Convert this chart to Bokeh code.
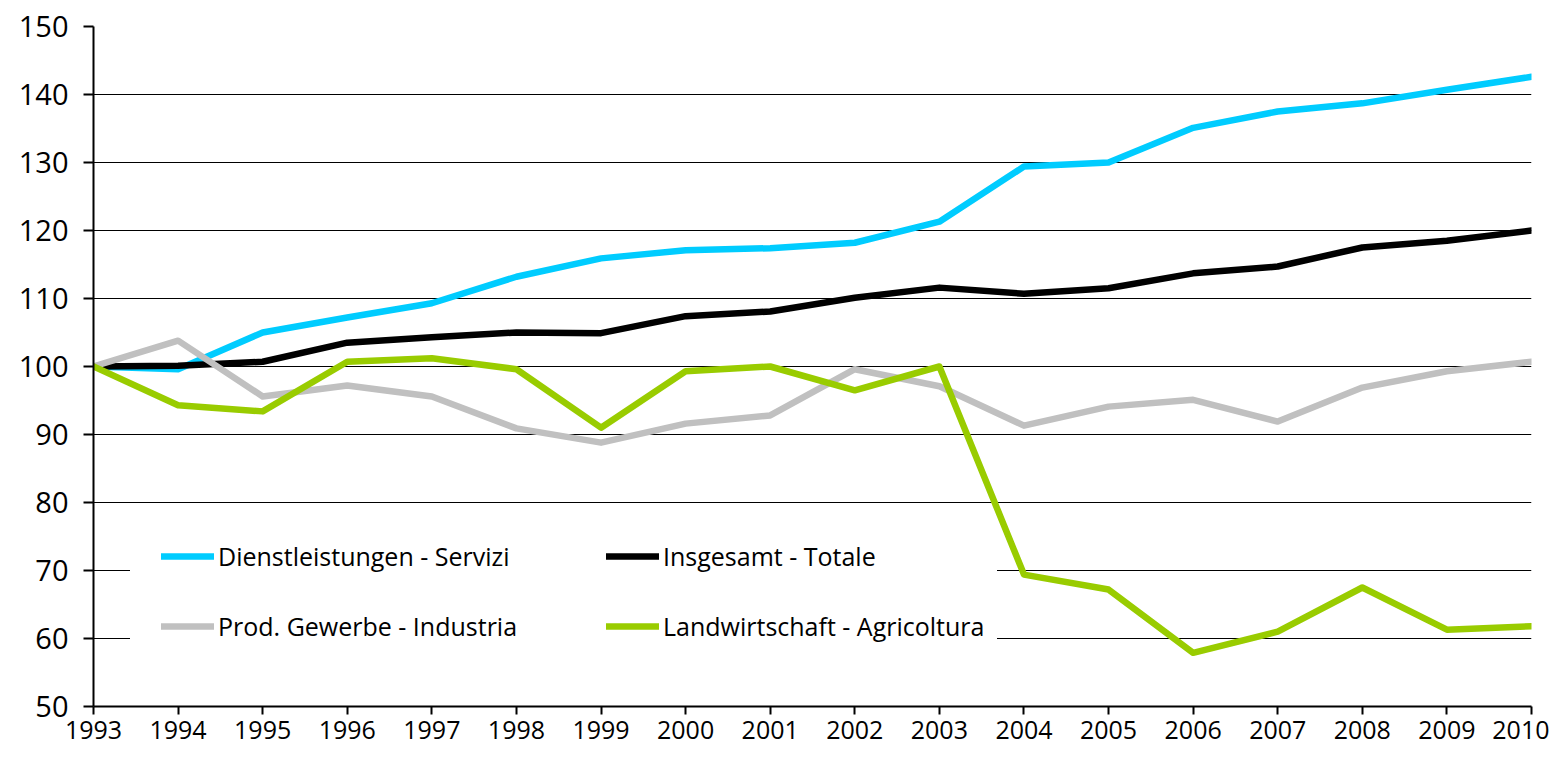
from bokeh.plotting import figure
from bokeh.models import Legend, LegendItem, FixedTicker, Range1d
from bokeh.embed import file_html
from bokeh.resources import INLINE

years = list(range(1993, 2011))
servizi = [100.0, 99.6, 105.0, 107.2, 109.3, 113.2, 115.9, 117.1, 117.4, 118.2,
           121.3, 129.4, 130.0, 135.1, 137.5, 138.7, 140.7, 142.6]
totale = [100.0, 100.1, 100.7, 103.5, 104.3, 105.0, 104.9, 107.4, 108.1, 110.1,
          111.6, 110.7, 111.5, 113.7, 114.7, 117.5, 118.5, 120.0]
industria = [100.0, 103.8, 95.6, 97.2, 95.6, 90.9, 88.8, 91.6, 92.8, 99.6,
             97.1, 91.3, 94.1, 95.1, 91.9, 96.9, 99.3, 100.7]
agricoltura = [100.0, 94.3, 93.4, 100.7, 101.2, 99.6, 91.0, 99.3, 100.0, 96.5,
               100.0, 69.4, 67.2, 57.9, 61.0, 67.5, 61.3, 61.8]

labels = ["Dienstleistungen - Servizi", "Insgesamt - Totale",
          "Prod. Gewerbe - Industria", "Landwirtschaft - Agricoltura"]
colors = ["#00CCFF", "#000000", "#C0C0C0", "#99CC00"]
y_ticks = list(range(50, 151, 10))

FONT = "Open Sans"

p = figure(width=1549, height=744, output_backend="svg", toolbar_location=None,
           x_range=Range1d(1993, 2010), y_range=Range1d(50, 150),
           min_border_left=93, min_border_right=18, min_border_top=26,
           min_border_bottom=38)
p.outline_line_color = None
p.background_fill_color = "white"
p.border_fill_color = "white"

p.xgrid.grid_line_color = None
p.ygrid.grid_line_color = "#000000"
p.ygrid.grid_line_width = 1
p.ygrid.ticker = FixedTicker(ticks=y_ticks)

p.xaxis.ticker = FixedTicker(ticks=years)
p.yaxis.ticker = FixedTicker(ticks=y_ticks)
for ax in (p.xaxis[0], p.yaxis[0]):
    ax.axis_line_color = "#000000"
    ax.axis_line_width = 2
    ax.major_tick_line_color = "#000000"
    ax.major_tick_line_width = 2
    ax.major_tick_in = 0
    ax.minor_tick_line_color = None
    ax.major_label_text_font = FONT
    ax.major_label_text_color = "#000000"
p.yaxis.major_tick_out = 10
p.xaxis.major_tick_out = 8
p.yaxis.major_label_text_font_size = "29px"
p.xaxis.major_label_text_font_size = "25px"
p.yaxis.major_label_standoff = 15
p.xaxis.major_label_standoff = 6

series = [servizi, totale, industria, agricoltura]
rends = []
for vals, col in zip(series, colors):
    r = p.line(years, vals, line_color=col, line_width=6.5, line_cap="round",
               line_join="round")
    rends.append(r)

common = dict(label_text_font=FONT, label_text_font_size="25px",
              glyph_width=53, glyph_height=20, label_standoff=4,
              label_height=40, spacing=30, border_line_color="white",
              border_line_width=1,
              background_fill_color="white", background_fill_alpha=1.0,
              label_text_color="#000000")

leg1 = Legend(items=[LegendItem(label=labels[0], renderers=[rends[0]]),
                     LegendItem(label=labels[2], renderers=[rends[2]])],
              location=(37, 29), padding=30, label_width=353, **common)
leg2 = Legend(items=[LegendItem(label=labels[1], renderers=[rends[1]]),
                     LegendItem(label=labels[3], renderers=[rends[3]])],
              location=(500, 47), padding=12, **common)
p.add_layout(leg1)
p.add_layout(leg2)

open("out.html", "w").write(file_html(p, INLINE))
